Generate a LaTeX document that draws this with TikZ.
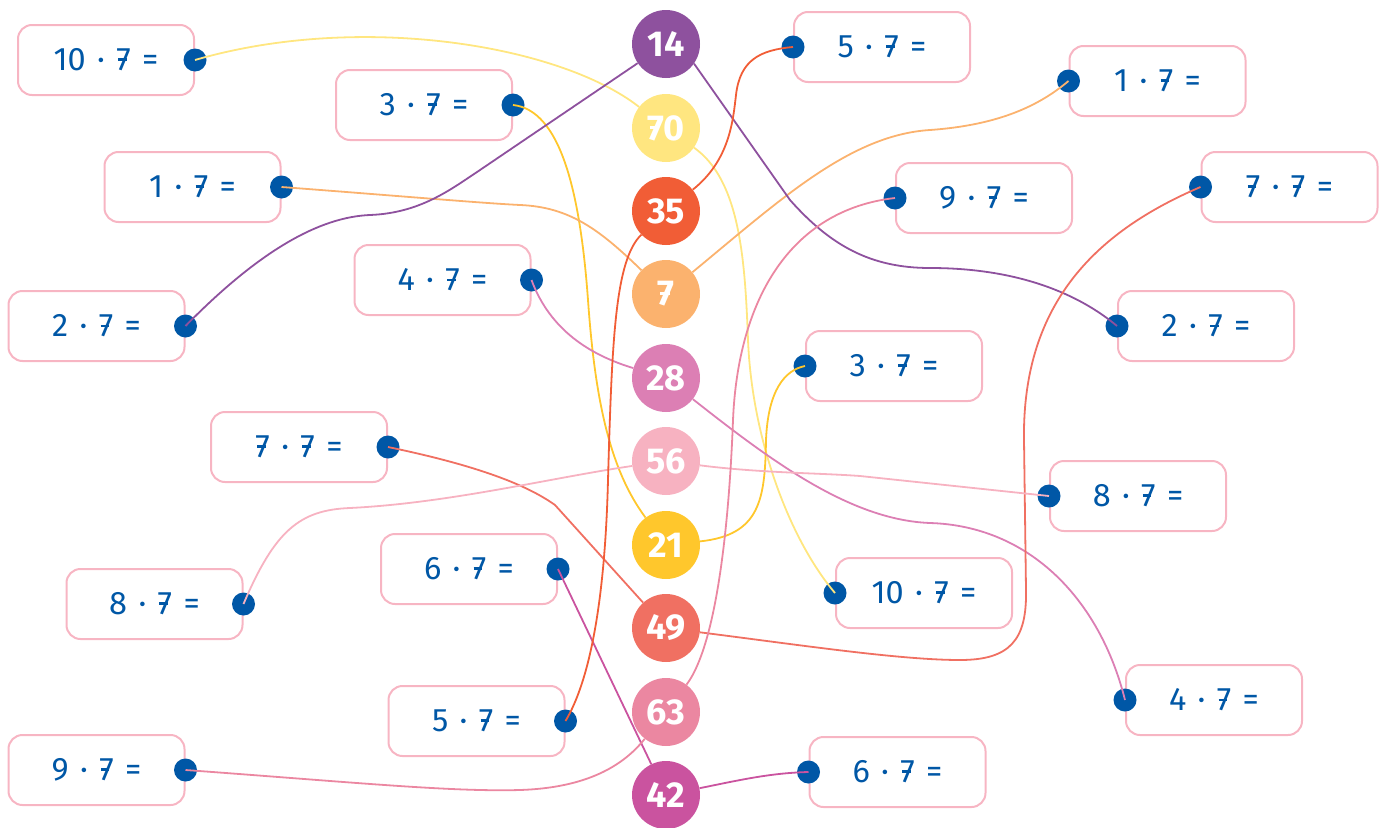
\documentclass[tikz,border=0pt]{standalone}
\usepackage{fontspec}
\setmainfont{Fira Sans}
\usetikzlibrary{calc}
\definecolor{numblue}{HTML}{0057A6}
\definecolor{boxpink}{HTML}{F7B5C3}
\definecolor{c14}{HTML}{8E519E}
\definecolor{c70}{HTML}{FFE680}
\definecolor{c35}{HTML}{F15D36}
\definecolor{c7}{HTML}{FBB26E}
\definecolor{c28}{HTML}{DC7FB4}
\definecolor{c56}{HTML}{F7B2C1}
\definecolor{c21}{HTML}{FFC72C}
\definecolor{c49}{HTML}{F07062}
\definecolor{c63}{HTML}{EB87A1}
\definecolor{c42}{HTML}{CA539F}
\newcommand{\sv}{\mbox{7\llap{\rule[0.3em]{0.26em}{0.08em}\kern0.13em}}}
\newcommand{\gap}{\hspace{0.35em}}
\pgfdeclarelayer{front}
\pgfsetlayers{main,front}
\tikzset{
  eqbox/.style={draw=boxpink, line width=2pt, rounded corners=14pt, minimum width=176pt,
    minimum height=70pt, text=numblue, font=\fontsize{32.5}{38}\selectfont},
  knob/.style={circle, fill=numblue, minimum size=23pt, inner sep=0pt},
  result/.style={circle, minimum size=68pt, inner sep=0pt, text=white,
    font=\fontsize{36}{40}\selectfont\bfseries},
  link/.style={line width=1.8pt}
}

\begin{document}
\begin{tikzpicture}[x=1pt,y=-1pt]
  \useasboundingbox (0,0) rectangle (1389,827);
  % left column of products
  \foreach \n/\x/\y/\f in {L10/106/60/10, L3/424/105/3, L1/192.5/187/1, L4/442.5/280/4,
      L2/96.5/326/2, L7/299/447/\sv, L6/469/569/6, L8/154.5/604/8, L5/476.5/721/5, L9/96.5/770/9}{
    \node[eqbox] (b\n) at (\x,\y) {\f\gap·\gap\sv\gap=};
    \node[knob] (d\n) at (b\n.east) {};
  }
  % right column of products
  \foreach \n/\x/\y/\f in {R5/882/47/5, R1/1157.5/81/1, R9/984/198/9, R7/1289.5/187/\sv,
      R2/1206/326/2, R3/894/366/3, R8/1138/496/8, R10/924/593/10, R4/1214/700/4, R6/897.5/772/6}{
    \node[eqbox] (b\n) at (\x,\y) {\f\gap·\gap\sv\gap=};
    \node[knob] (d\n) at (b\n.west) {};
  }
  % results in the middle
  \begin{pgfonlayer}{front}
  \foreach \v/\y/\t in {14/44/14, 70/128/\sv0, 35/211/35, 7/294/\sv, 28/378/28,
      56/461/56, 21/545/21, 49/628/49, 63/712/63, 42/795/42}
    \node[result, fill=c\v] (n\v) at (666,\y) {\t};
  \end{pgfonlayer}

  \draw[link,c70] (dL10.center) .. controls (360,12) and (560,45) .. (n70);
  \draw[link,c70] (n70) .. controls (740,180) and (745,260) .. (748,340) .. controls (752,440) and (790,540) .. (dR10.center);
  \draw[link,c21] (dL3.center) .. controls (560,110) and (580,190) .. (588,300) .. controls (595,400) and (610,470) .. (n21);
  \draw[link,c21] (n21) .. controls (760,535) and (765,500) .. (766,440) .. controls (768,390) and (785,370) .. (dR3.center);
  \draw[link,c7] (dL1.center) .. controls (400,196) and (480,203) .. (520,205) .. controls (570,207) and (600,230) .. (n7);
  \draw[link,c7] (n7) .. controls (780,200) and (850,135) .. (930,130) .. controls (1000,125) and (1040,105) .. (dR1.center);
  \draw[link,c28] (dL4.center) .. controls (550,330) and (590,355) .. (n28);
  \draw[link,c28] (n28) .. controls (770,460) and (850,520) .. (930,523) .. controls (1030,526) and (1100,600) .. (dR4.center);
  \draw[link,c14] (dL2.center) .. controls (260,250) and (320,217) .. (370,215) .. controls (420,213) and (450,190) .. (480,170) -- (n14);
  \draw[link,c14] (n14.-35) -- (790,200) .. controls (830,245) and (870,268) .. (930,268) .. controls (1020,268) and (1080,295) .. (dR2.center);
  \draw[link,c49] (dL7.center) .. controls (460,462) and (520,480) .. (555,505) -- (n49);
  \draw[link,c49] (n49) .. controls (800,645) and (900,660) .. (960,660) .. controls (1010,660) and (1027,640) .. (1026,590)
    -- (1024,440) .. controls (1022,300) and (1100,230) .. (dR7.center);
  \draw[link,c42] (dL6.center) -- (n42);
  \draw[link,c42] (n42) .. controls (740,780) and (770,773) .. (dR6.center);
  \draw[link,c56] (dL8.center) .. controls (275,530) and (300,510) .. (350,508) .. controls (450,503) and (550,478) .. (n56);
  \draw[link,c56] (n56) .. controls (760,473) and (820,473) .. (860,476) -- (dR8.center);
  \draw[link,c35] (dL5.center) .. controls (590,680) and (605,600) .. (608,480) .. controls (612,340) and (615,260) .. (n35);
  \draw[link,c35] (n35) .. controls (730,160) and (733,120) .. (736,95) .. controls (740,60) and (760,50) .. (dR5.center);
  \draw[link,c63] (dL9.center) .. controls (350,782) and (450,792) .. (520,790) .. controls (580,788) and (620,770) .. (n63);
  \draw[link,c63] (n63) .. controls (720,640) and (730,500) .. (733,420) .. controls (738,300) and (790,210) .. (dR9.center);
\end{tikzpicture}
\end{document}
